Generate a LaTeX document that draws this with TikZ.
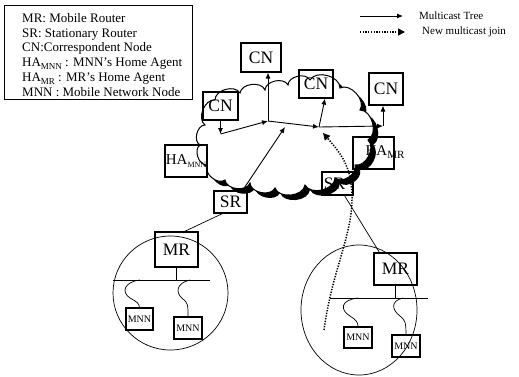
\documentclass[tikz,border=0pt]{standalone}
\usepackage{fontspec}
\setmainfont{Liberation Serif}
\usetikzlibrary{arrows.meta,shapes.geometric}
\newcommand\mysub[2]{{\fontsize{#1}{#1}\selectfont\raisebox{-3pt}{#2}}}
\begin{document}
\begin{tikzpicture}[x=1pt,y=-1pt,
  box/.style={draw,line width=1.1pt,inner sep=0pt,font=\fontsize{17.5}{17.5}\selectfont},
  mnn/.style={draw,line width=1.1pt,inner sep=0pt,minimum width=28pt,minimum height=22pt,font=\fontsize{10}{10}\selectfont},
  arr/.style={-{Latex[length=6pt,width=5pt]},line width=0.9pt},
  joinarr/.style={line width=1.5pt,dash pattern=on 1.3pt off 1.4pt,-{Triangle[length=7pt,width=7pt]}},
  ln/.style={line width=0.7pt},
  cloudpath/.style={insert path={(205,125) to[bend left=75] (215,100) to[bend left=75] (240,93)
     to[bend left=75] (265,90) to[bend left=75] (288,85) to[bend left=75] (310,80)
     to[bend left=75] (340,88) to[bend left=75] (360,110) to[bend left=75] (368,140)
     to[bend left=75] (355,165) to[bend left=75] (335,178) to[bend left=75] (305,185)
     to[bend left=75] (275,188) to[bend left=75] (250,183) to[bend left=75] (225,180)
     to[bend left=75] (207,165) to[bend left=75] (200,145) to[bend left=75] (205,125) -- cycle}}]
\useasboundingbox (0,0) rectangle (519,376);

% legend
\node[draw,line width=0.7pt,anchor=north west,minimum width=188pt,minimum height=94pt,inner sep=0pt] (legbox) at (4,5) {};
\node[anchor=north west,align=left,inner sep=0pt,font=\fontsize{13}{14.8}\selectfont] (legtxt) at (22,13)
  {MR: Mobile Router\\ SR: Stationary Router\\ CN:Correspondent Node\\
   HA\mysub{9}{MNN} : MNN’s Home Agent\\ HA\mysub{9}{MR} : MR’s Home Agent\\ MNN : Mobile Network Node};

\coordinate (l1a) at (360,16); \coordinate (l1b) at (403,16);
\draw[arr] (l1a) -- (l1b);
\node[anchor=west,inner sep=0pt,font=\fontsize{11}{11}\selectfont] (l1t) at (419,16) {Multicast Tree};
\coordinate (l2a) at (360,32); \coordinate (l2b) at (405,32);
\draw[joinarr] (l2a) -- (l2b);
\node[anchor=west,inner sep=0pt,font=\fontsize{11}{11}\selectfont] (l2t) at (422,32) {New multicast join};

% cloud
\fill[black,xshift=5pt,yshift=-5pt,cloudpath];
\filldraw[fill=white,draw=black,line width=1pt,cloudpath];

% boxes
\node[box,minimum width=40pt,minimum height=29pt] (cnT) at (261,57.5) {CN};
\node[box,minimum width=34pt,minimum height=28pt] (cnM) at (316,84) {CN};
\node[box,minimum width=34pt,minimum height=32pt] (cnR) at (386,89) {CN};
\node[box,minimum width=35pt,minimum height=28pt] (cnL) at (220.5,106) {CN};
\node[box,minimum width=42pt,minimum height=32pt,font=\fontsize{15}{15}\selectfont] (haN) at (186,161) {HA\mysub{8}{MNN}};
\node[box,minimum width=41pt,minimum height=32pt] (haR) at (373.5,153) {};
\node[inner sep=0pt,font=\fontsize{15}{15}\selectfont] (haRt) at (385,152) {HA\mysub{11}{MR}};
\node[box,minimum width=33pt,minimum height=22pt] (srL) at (230.5,202) {SR};
\node[box,minimum width=31pt,minimum height=23pt] (srR) at (337.5,183.5) {SR’};

% multicast tree arrows
\coordinate (hub) at (268,121);
\coordinate (cL) at (220.5,134);
\coordinate (J) at (319,127);
\coordinate (K) at (383,126);
\coordinate (sT) at (285,127);
\draw[arr] (cnL.south) -- (cL);
\draw[arr] (cL) -- (hub);
\draw[arr] (hub) -- (hub |- cnT.south);
\draw[arr] (hub) -- (J);
\draw[arr] (J) -- ([xshift=9pt]cnM.south);
\draw[arr] (J) -- (K);
\draw[arr] (K) -- (K |- cnR.south);
\draw[arr] ([xshift=-5pt]srL.north east) -- (sT);

% mobile networks
\node[draw,ellipse,line width=0.7pt,minimum width=115pt,minimum height=114pt,inner sep=0pt] (netL) at (170.5,293) {};
\node[draw,ellipse,line width=0.7pt,minimum width=116pt,minimum height=130pt,inner sep=0pt] (netR) at (359,310) {};

\node[box,minimum width=43pt,minimum height=35pt] (mrL) at (176.5,249.5) {MR};
\node[box,minimum width=43pt,minimum height=32pt] (mrR) at (395.5,269) {MR};

\node[mnn,minimum width=27pt] (mnnL1) at (139.5,319) {MNN};
\node[mnn] (mnnL2) at (188,328) {MNN};
\node[mnn,minimum height=21pt] (mnnR1) at (358,337.5) {MNN};
\node[mnn] (mnnR2) at (406,346) {MNN};

\coordinate (hL1) at (113,280); \coordinate (hL2) at (210,280);
\coordinate (hR1) at (330,298); \coordinate (hR2) at (428,298);
\draw[ln] (hL1) -- (hL2);
\draw[ln] (hR1) -- (hR2);
\draw[ln] (mrL.south) -- (mrL.south |- hL1);
\draw[ln] (mrR.south) -- (mrR.south |- hR1);

\coordinate (bL1) at (140,280);
\coordinate (bL2) at (190,280);
\coordinate (bR1) at (358,298);
\coordinate (bR2) at (403,298);
\draw[ln] (bL1) .. controls (124,282) and (121,292) .. (130,298) .. controls (137,302) and (139,303) .. (mnnL1.north);
\draw[ln] (bL2) .. controls (176,283) and (175,293) .. (183,299) .. controls (188,303) and (188,305) .. (mnnL2.north);
\draw[ln] (bR1) .. controls (340,300) and (340,310) .. (350,316) .. controls (356,320) and (358,322) .. (mnnR1.north);
\draw[ln] (bR2) .. controls (390,301) and (392,310) .. (400,316) .. controls (405,320) and (406,322) .. (mnnR2.north);

% links routers
\draw[ln] ([xshift=-8pt]srL.south) -- ([xshift=8pt]mrL.north);
\draw[ln] ([xshift=7pt]srR.south) -- ([xshift=6pt]mrR.north west);

% new multicast join
\coordinate (jS) at (324,330);
\coordinate (jE) at (323,133);
\draw[joinarr] (jS) .. controls (332,270) and (353,235) .. (352,195) .. controls (351,170) and (345,158) .. (jE);
\end{tikzpicture}
\end{document}
